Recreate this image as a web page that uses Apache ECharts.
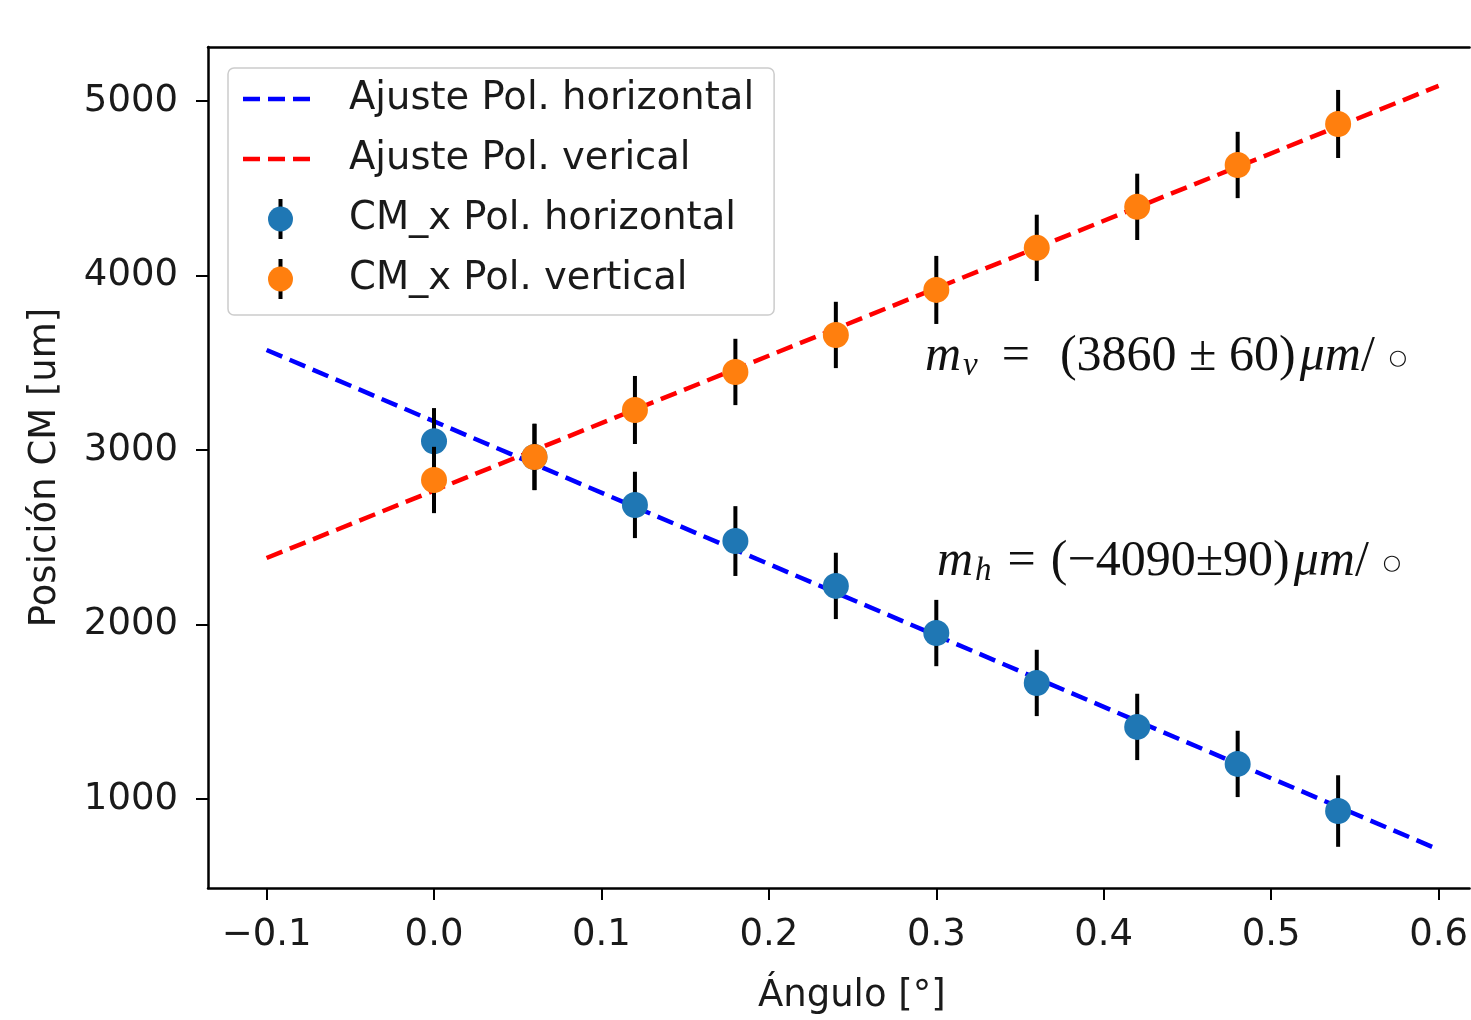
<!DOCTYPE html>
<html>
<head>
<meta charset="utf-8">
<script src="https://cdn.jsdelivr.net/npm/echarts@6/dist/echarts.min.js"></script>
<style>
  html, body { margin: 0; padding: 0; background: #fff; }
  #chart { width: 1471px; height: 1020px; }
</style>
</head>
<body>
<div id="chart"></div>
<script>
  // datos
  const angles = [0.0, 0.06, 0.12, 0.18, 0.24, 0.30, 0.36, 0.42, 0.48, 0.54];
  const cmHoriz = [3050, 2960, 2685, 2478, 2221, 1951, 1665, 1413, 1201, 931];
  const errHoriz = [190, 190, 190, 200, 190, 190, 190, 190, 190, 205];
  const cmVert = [2828, 2960, 3229, 3447, 3659, 3917, 4158, 4393, 4633, 4868];
  const errVert = [190, 190, 195, 190, 190, 195, 190, 190, 190, 195];

  // rectas de ajuste (extremos)
  const fitX = [-0.1, 0.6];
  const fitHoriz = [3573, 710];
  const fitVert = [2381, 5086];

  const xTicks = [-0.1, 0.0, 0.1, 0.2, 0.3, 0.4, 0.5, 0.6];
  const yTicks = [1000, 2000, 3000, 4000, 5000];

  const FONT = 'DejaVu Sans';
  const X_MIN = -0.135, X_MAX = 0.6185;   // el marco derecho queda fuera de la imagen

  function errIcon(color) {
    const svg = '<svg xmlns="http://www.w3.org/2000/svg" width="75" height="40" viewBox="0 0 75 40">' +
      '<rect x="35.5" y="0" width="4" height="40" fill="#000"/>' +
      '<circle cx="37.5" cy="20" r="12.5" fill="' + color + '"/></svg>';
    return 'image://data:image/svg+xml;charset=utf-8,' + encodeURIComponent(svg);
  }

  function dashIcon(color) {
    const svg = '<svg xmlns="http://www.w3.org/2000/svg" width="75" height="40" viewBox="0 0 75 40">' +
      '<line x1="0" y1="20" x2="75" y2="20" stroke="' + color + '" stroke-width="4.5" stroke-dasharray="17,8"/></svg>';
    return 'image://data:image/svg+xml;charset=utf-8,' + encodeURIComponent(svg);
  }

  function errBars(ys, errs) {
    return angles.map((a, i) => [a, ys[i], errs[i]]);
  }

  function renderErr(params, api) {
    const x = api.value(0), y = api.value(1), e = api.value(2);
    const p1 = api.coord([x, y + e]);
    const p2 = api.coord([x, y - e]);
    return {
      type: 'line',
      shape: { x1: p1[0], y1: p1[1], x2: p2[0], y2: p2[1] },
      style: { stroke: '#000', lineWidth: 4 }
    };
  }

  const SERIF = 'Liberation Serif';
  function serifRich(eqPad) {
    return {
      i: { fontFamily: SERIF, fontStyle: 'italic', fontSize: 50, fill: '#111' },
      u: { fontFamily: SERIF, fontStyle: 'italic', fontSize: 50, fill: '#111', padding: [0, 0, 0, 4] },
      s: { fontFamily: SERIF, fontStyle: 'italic', fontSize: 33, fill: '#111', padding: [18, 0, 0, 2] },
      e: { fontFamily: SERIF, fontSize: 50, fill: '#111', padding: eqPad },
      n: { fontFamily: SERIF, fontSize: 50, fill: '#111' },
      c: { fontFamily: 'DejaVu Sans', fontSize: 21, fill: '#111', padding: [4, 0, 0, 14] }
    };
  }

  const myChart = echarts.init(document.getElementById('chart'));
  myChart.setOption({
    animation: false,
    grid: { left: 208, top: 47, right: 0, bottom: 132, show: false },
    legend: {
      orient: 'vertical',
      left: 228, top: 68,
      padding: [11, 20, 16, 15],
      itemWidth: 75, itemHeight: 40, itemGap: 20,
      borderColor: '#cccccc', borderWidth: 1.5, borderRadius: 6,
      backgroundColor: 'rgba(255,255,255,0.85)',
      textStyle: { fontFamily: FONT, fontSize: 38.5, color: '#1a1a1a', lineHeight: 40, padding: [0, 0, 0, 26] },
      data: [
        { name: 'Ajuste Pol. horizontal', icon: dashIcon('#0000ff') },
        { name: 'Ajuste Pol. verical', icon: dashIcon('#ff0000') },
        { name: 'CM_x Pol. horizontal', icon: errIcon('#1f77b4') },
        { name: 'CM_x Pol. vertical', icon: errIcon('#ff7f0e') }
      ]
    },
    xAxis: [
      {
        type: 'value',
        min: X_MIN, max: X_MAX,
        name: 'Ángulo [°]',
        nameLocation: 'middle', nameGap: 90,
        nameTextStyle: { fontFamily: FONT, fontSize: 37, color: '#1a1a1a', padding: [0, 0, 0, 26] },
        axisLine: { onZero: false, lineStyle: { color: '#000', width: 2.5 } },
        axisTick: { show: true, length: 12, lineStyle: { color: '#000', width: 2 }, customValues: xTicks },
        axisLabel: {
          fontFamily: FONT, fontSize: 37, color: '#1a1a1a', margin: 29,
          customValues: xTicks, showMinLabel: true, showMaxLabel: true,
          formatter: v => v.toFixed(1).replace('-', '−')
        },
        splitLine: { show: false }
      },
      {
        // marco superior
        type: 'value', position: 'top',
        min: X_MIN, max: X_MAX,
        axisLine: { onZero: false, lineStyle: { color: '#000', width: 2.5 } },
        axisTick: { show: false },
        axisLabel: { show: false },
        splitLine: { show: false }
      }
    ],
    yAxis: {
      type: 'value',
      min: 490, max: 5309,
      name: 'Posición CM [um]',
      nameLocation: 'middle', nameGap: 144,
      nameTextStyle: { fontFamily: FONT, fontSize: 37, color: '#1a1a1a' },
      axisLine: { show: true, onZero: false, lineStyle: { color: '#000', width: 2.5 } },
      axisTick: { show: true, length: 12, lineStyle: { color: '#000', width: 2 }, customValues: yTicks },
      axisLabel: {
        fontFamily: FONT, fontSize: 37, color: '#1a1a1a', margin: 30,
        customValues: yTicks,
        formatter: v => String(v)
      },
      splitLine: { show: false }
    },
    graphic: [
      {
        type: 'text', left: 925, top: 332, z: 10,
        style: {
          text: '{i|m}{s|v}{e|=}{n|(3860 ± 60)}{u|μm}{n|/}{c|○}',
          fontFamily: SERIF, fontSize: 50, fill: '#111',
          rich: serifRich([0, 30, 0, 24])
        }
      },
      {
        type: 'text', left: 937, top: 537, z: 10,
        style: {
          text: '{i|m}{s|h}{e|=}{n|(−4090±90)}{u|μm}{n|/}{c|○}',
          fontFamily: SERIF, fontSize: 50, fill: '#111',
          rich: serifRich([0, 15, 0, 16])
        }
      }
    ],
    series: [
      {
        name: 'Ajuste Pol. horizontal',
        type: 'line', z: 2,
        symbol: 'none',
        data: fitX.map((x, i) => [x, fitHoriz[i]]),
        lineStyle: { color: '#0000ff', width: 4.5, type: [17, 8] },
        itemStyle: { color: '#0000ff' }
      },
      {
        name: 'Ajuste Pol. verical',
        type: 'line', z: 2,
        symbol: 'none',
        data: fitX.map((x, i) => [x, fitVert[i]]),
        lineStyle: { color: '#ff0000', width: 4.5, type: [17, 8] },
        itemStyle: { color: '#ff0000' }
      },
      {
        name: 'err_h', type: 'custom', z: 3,
        renderItem: renderErr,
        encode: { x: 0, y: 1 },
        data: errBars(cmHoriz, errHoriz)
      },
      {
        name: 'CM_x Pol. horizontal',
        type: 'scatter', z: 4,
        symbolSize: 26,
        data: angles.map((a, i) => [a, cmHoriz[i]]),
        itemStyle: { color: '#1f77b4', opacity: 1 }
      },
      {
        name: 'err_v', type: 'custom', z: 5,
        renderItem: renderErr,
        encode: { x: 0, y: 1 },
        data: errBars(cmVert, errVert)
      },
      {
        name: 'CM_x Pol. vertical',
        type: 'scatter', z: 6,
        symbolSize: 26,
        data: angles.map((a, i) => [a, cmVert[i]]),
        itemStyle: { color: '#ff7f0e', opacity: 1 }
      }
    ]
  });
</script>
</body>
</html>
